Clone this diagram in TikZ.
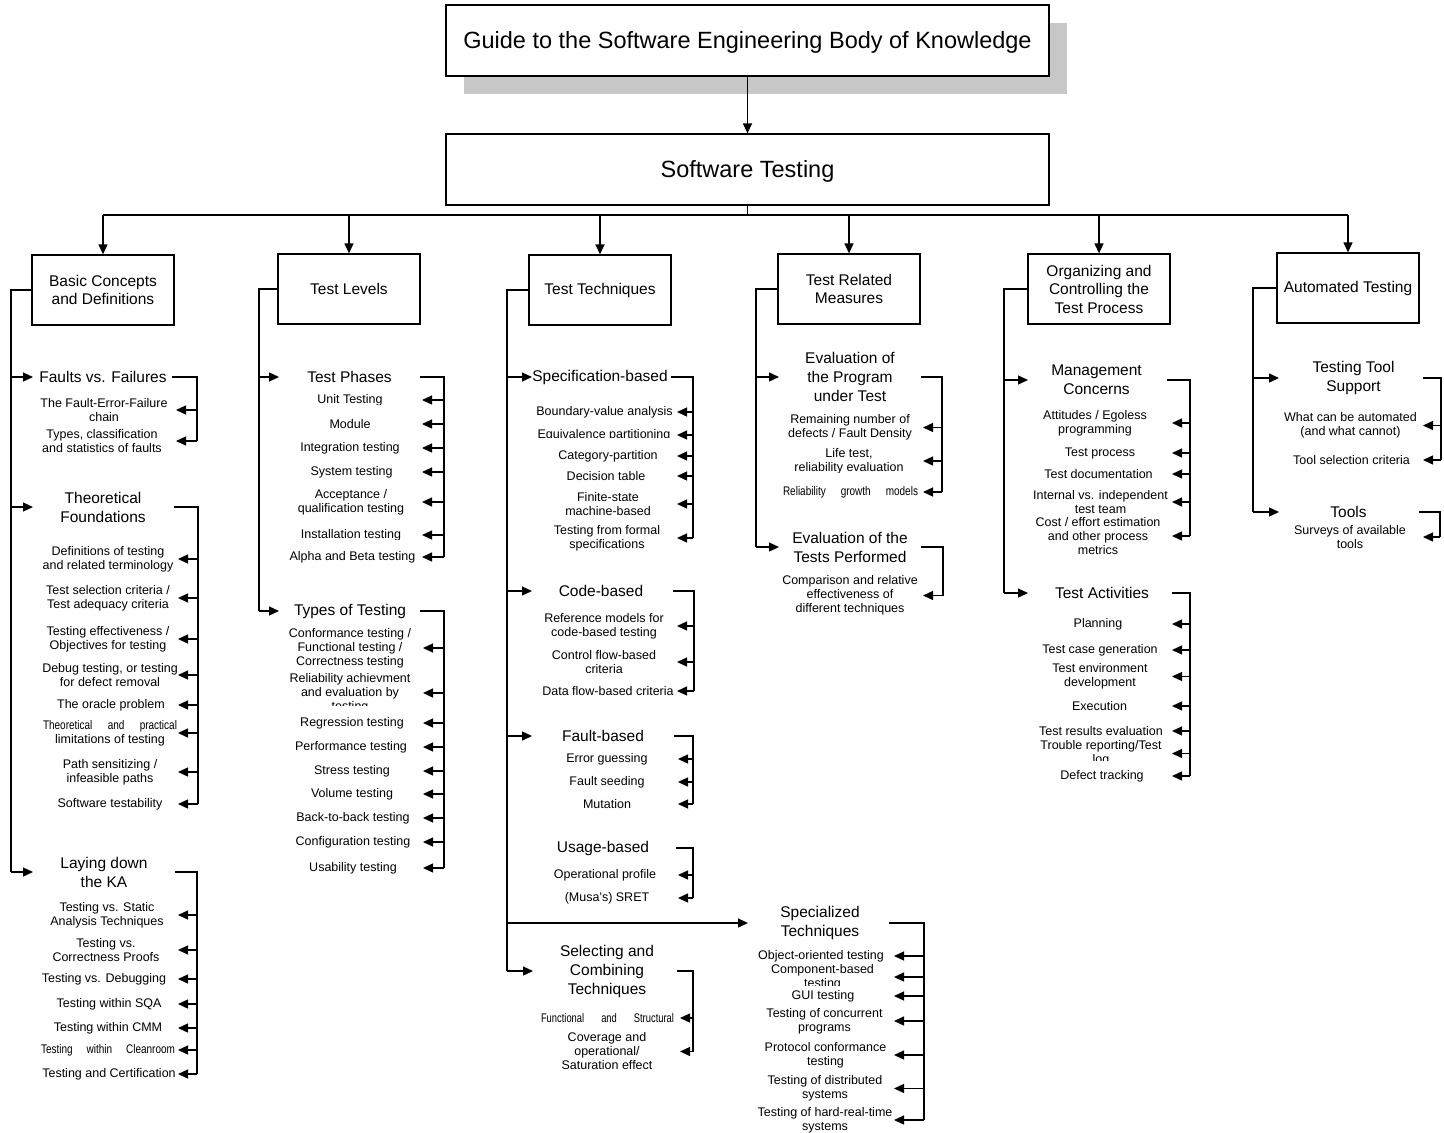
\documentclass[tikz,border=0pt]{standalone}
\usepackage{fontspec}
\usepackage{graphicx}
\setmainfont{Liberation Sans}
\usetikzlibrary{arrows.meta}

\newcommand\fsz[2]{\fontsize{#1}{#2}\selectfont}
% a condensed word, and a line of such words spread over a fixed width
\newcommand\cw[2][0.8]{\scalebox{#1}[1]{#2}}
\newcommand\spreadtext[2]{\makebox[#1pt][s]{#2}}

% bracket from a topic title down the right side, with one arrow per subtopic
% #1 topic node, #2 x where the bracket starts, #3 rail x, #4 arrow tip x, #5 number of subtopics
\newcommand\kabranch[5]{%
  \draw[ln] (#2,0 |- #1) -- (#3,0 |- #1) -- (#3,0 |- #1#5);
  \foreach \n in {1,...,#5}{\draw[arr] (#3,0 |- #1\n) -- (#4,0 |- #1\n);}
}

\tikzset{
  ln/.style={line width=1.3pt},
  arr/.style={line width=1.3pt,-{Triangle[length=10pt,width=9pt]}},
  hbox/.style={draw,line width=1.3pt,fill=white,minimum width=603pt,minimum height=71pt,
    text height=20pt,text depth=5pt,font=\fsz{23.5}{28}},
  kabox/.style={draw,line width=1.3pt,minimum width=142pt,minimum height=70pt,align=center,font=\fsz{15.5}{18.5}},
  cat/.style={align=center,inner sep=0pt,font=\fsz{15.5}{19}},
  item/.style={align=center,inner sep=0pt,font=\fsz{12.5}{14}},
}

\begin{document}
\begin{tikzpicture}[x=1pt,y=-1pt]
\useasboundingbox (0,0) rectangle (1444,1133);

% ---------- header ----------
\fill[black!22] (464,23) rectangle (1067,94);
\node[hbox] (guide) at (747.5,40.5) {Guide to the Software Engineering Body of Knowledge};
\node[hbox] (st) at (747.5,169.5) {Software Testing};
\draw[arr] (guide.south) -- (st.north);

% ---------- knowledge areas ----------
\node[kabox] (b1) at (103,290) {Basic Concepts\\and Definitions};
\node[kabox] (b2) at (349,289) {Test Levels};
\node[kabox] (b3) at (600,290) {Test Techniques};
\node[kabox] (b4) at (849,289) {Test Related\\Measures};
\node[kabox] (b5) at (1099,289) {Organizing and\\Controlling the\\Test Process};
\node[kabox] (b6) at (1348,288) {Automated Testing};

\coordinate (bus) at (747.5,215);
\draw[ln] (st.south) -- (bus);
\draw[ln] (b1 |- bus) -- (b6 |- bus);
\foreach \b in {1,...,6}{\draw[arr] (b\b |- bus) -- (b\b.north);}

% ---------- Basic Concepts and Definitions ----------
\node[cat] (ff) at (103,377) {Faults vs. Failures};
\node[item] (ff1) at (104,410) {The Fault-Error-Failure\\chain};
\node[item] (ff2) at (102,441) {Types, classification\\and statistics of faults};
\kabranch{ff}{172}{197}{176}{2}

\node[cat] (tf) at (103,507) {Theoretical\\Foundations};
\node[item] (tf1) at (108,559) {Definitions of testing\\and related terminology};
\node[item] (tf2) at (108,598) {Test selection criteria /\\Test adequacy criteria};
\node[item] (tf3) at (108,639) {Testing effectiveness /\\Objectives for testing};
\node[item] (tf4) at (110,675) {Debug testing, or testing\\for defect removal};
\node[item] (tf5) at (111,705) {The oracle problem};
\node[item] (tf6) at (110,733) {\spreadtext{134}{\cw{Theoretical}\hfill\cw{and}\hfill\cw{practical}}\\limitations of testing};
\node[item] (tf7) at (110,772) {Path sensitizing /\\infeasible paths};
\node[item] (tf8) at (110,804) {Software testability};
\kabranch{tf}{174}{198}{178}{8}

\node[cat] (lk) at (104,872) {Laying down\\the KA};
\node[item] (lk1) at (107,915) {Testing vs. Static\\Analysis Techniques};
\node[item] (lk2) at (106,950) {Testing vs.\\Correctness Proofs};
\node[item] (lk3) at (104,979) {Testing vs. Debugging};
\node[item] (lk4) at (109,1004) {Testing within SQA};
\node[item] (lk5) at (108,1028) {Testing within CMM};
\node[item] (lk6) at (108,1050) {\spreadtext{134}{\cw{Testing}\hfill\cw{within}\hfill\cw{Cleanroom}}};
\node[item] (lk7) at (109,1074) {Testing and Certification};
\kabranch{lk}{175}{197}{178}{7}

\coordinate (k1) at (11,0);
\draw[ln] (b1.west) -| (k1 |- lk);
\foreach \c in {ff,tf,lk}{\draw[arr] (k1 |- \c) -- (33,0 |- \c);}

% ---------- Test Levels ----------
\node[cat] (tp) at (349.5,377) {Test Phases};
\begin{scope}
  \clip (270,385) rectangle (430,404);
  \node[item] (tp1) at (350,400) {Unit Testing};
\end{scope}
\node[item] (tp2) at (350,424) {Module};
\node[item] (tp3) at (350,448) {Integration testing};
\node[item] (tp4) at (351.5,472) {System testing};
\node[item] (tp5) at (351,502) {Acceptance /\\qualification testing};
\begin{scope}
  \clip (270,520) rectangle (430,539);
  \node[item] (tp6) at (351,535) {Installation testing};
\end{scope}
\node[item] (tp7) at (352.5,557) {Alpha and Beta testing};
\kabranch{tp}{420}{444}{422}{7}

\node[cat] (tt) at (350,611) {Types of Testing};
\node[item] (tt1) at (350,648) {Conformance testing /\\Functional testing /\\Correctness testing};
\begin{scope}
  \clip (270,670) rectangle (430,705);
  \node[item] (tt2) at (350,693) {Reliability achievment\\and evaluation by\\testing};
\end{scope}
\node[item] (tt3) at (352,723) {Regression testing};
\node[item] (tt4) at (351,747) {Performance testing};
\node[item] (tt5) at (352,771) {Stress testing};
\node[item] (tt6) at (352,794) {Volume testing};
\node[item] (tt7) at (353,818) {Back-to-back testing};
\node[item] (tt8) at (353,842) {Configuration testing};
\node[item] (tt9) at (353,868) {Usability testing};
\kabranch{tt}{420}{444}{423}{9}

\coordinate (k2) at (259,0);
\draw[ln] (b2.west) -| (k2 |- tt);
\foreach \c in {tp,tt}{\draw[arr] (k2 |- \c) -- (279,0 |- \c);}

% ---------- Test Techniques ----------
\node[cat] (sb) at (600,377) {Specification-based};
\node[item] (sb1) at (604.5,412) {Boundary-value analysis};
\begin{scope}
  \clip (520,420) rectangle (690,437.5);
  \node[item] (sb2) at (604,435) {Equivalence partitioning};
\end{scope}
\node[item] (sb3) at (608,456) {Category-partition};
\node[item] (sb4) at (606,476) {Decision table};
\node[item] (sb5) at (608,504) {Finite-state\\machine-based};
\node[item] (sb6) at (607,538) {Testing from formal\\specifications};
\kabranch{sb}{671}{693}{677}{6}

\node[cat] (cb) at (601,591) {Code-based};
\node[item] (cb1) at (604,626) {Reference models for\\code-based testing};
\node[item] (cb2) at (604,662) {Control flow-based\\criteria};
\node[item] (cb3) at (608,691) {Data flow-based criteria};
\kabranch{cb}{673}{694}{677}{3}

\node[cat] (fb) at (603,736) {Fault-based};
\node[item] (fb1) at (607,759) {Error guessing};
\node[item] (fb2) at (607,782) {Fault seeding};
\node[item] (fb3) at (607,804) {Mutation};
\kabranch{fb}{674}{693}{678}{3}

\node[cat] (ub) at (603,848) {Usage-based};
\node[item] (ub1) at (605,875) {Operational profile};
\node[item] (ub2) at (607,898) {(Musa's) SRET};
\kabranch{ub}{676}{693}{678}{2}

\node[cat] (sc) at (607,971) {Selecting and\\Combining\\Techniques};
\node[item] (sc1) at (607.5,1018) {\spreadtext{133}{\cw[0.75]{Functional}\hfill\cw[0.75]{and}\hfill\cw[0.75]{Structural}}};
\node[item] (sc2) at (607,1051.5) {Coverage and\\operational/\\Saturation effect};
\kabranch{sc}{677}{693}{680}{2}

\node[cat] (sp) at (820,923) {Specialized\\Techniques};
\node[item] (sp1) at (821,956) {Object-oriented testing};
\begin{scope}
  \clip (740,960) rectangle (900,985);
  \node[item] (sp2) at (822.5,977) {Component-based\\testing};
\end{scope}
\node[item] (sp3) at (823,996) {GUI testing};
\node[item] (sp4) at (824.5,1021) {Testing of concurrent\\programs};
\node[item] (sp5) at (825.5,1055) {Protocol conformance\\testing};
\node[item] (sp6) at (825,1088.5) {Testing of distributed\\systems};
\node[item] (sp7) at (825,1120) {Testing of hard-real-time\\systems};
\kabranch{sp}{889}{924}{894}{7}

\coordinate (k3) at (507,0);
\draw[ln] (b3.west) -| (k3 |- sc);
\foreach \c in {sb,cb,fb}{\draw[arr] (k3 |- \c) -- (532,0 |- \c);}
\draw[arr] (k3 |- sp) -- (748,0 |- sp);
\draw[arr] (k3 |- sc) -- (533,0 |- sc);

% ---------- Test Related Measures ----------
\node[cat] (ep) at (850,377) {Evaluation of\\the Program\\under Test};
\node[item] (ep1) at (850,427.5) {Remaining number of\\defects / Fault Density};
\begin{scope}
  \clip (770,440) rectangle (930,472);
  \node[item] (ep2) at (849,461) {Life test,\\reliability evaluation};
\end{scope}
\node[item] (ep3) at (850.5,492) {\spreadtext{135}{\cw{Reliability}\hfill\cw{growth}\hfill\cw{models}}};
\kabranch{ep}{921}{942}{923}{3}

\node[cat] (et) at (850,547) {Evaluation of the\\Tests Performed};
\node[item] (et1) at (850,595.5) {Comparison and relative\\effectiveness of\\different techniques};
\kabranch{et}{921}{943}{923}{1}

\coordinate (k4) at (756,0);
\draw[ln] (b4.west) -| (k4 |- et);
\foreach \c in {ep,et}{\draw[arr] (k4 |- \c) -- (779,0 |- \c);}

% ---------- Organizing and Controlling the Test Process ----------
\node[cat] (mc) at (1096.5,380) {Management\\Concerns};
\node[item] (mc1) at (1095,423) {Attitudes / Egoless\\programming};
\node[item] (mc2) at (1100,453) {Test process};
\node[item] (mc3) at (1098.5,474) {Test documentation};
\node[item] (mc4) at (1100.5,502) {Internal vs. independent\\test team};
\node[item] (mc5) at (1098,536) {Cost / effort estimation\\and other process\\metrics};
\kabranch{mc}{1167}{1190}{1172}{5}

\node[cat] (ta) at (1102,593) {Test Activities};
\node[item] (ta1) at (1098,624) {Planning};
\node[item] (ta2) at (1100,650) {Test case generation};
\node[item] (ta3) at (1100,676.5) {Test environment\\development};
\node[item] (ta4) at (1099.5,706) {Execution};
\node[item] (ta5) at (1101,731) {Test results evaluation};
\begin{scope}
  \clip (1020,738) rectangle (1180,760);
  \node[item] (ta6) at (1101,753.5) {Trouble reporting/Test\\log};
\end{scope}
\node[item] (ta7) at (1102,776) {Defect tracking};
\kabranch{ta}{1172}{1190}{1172}{7}

\coordinate (k5) at (1004,0);
\draw[ln] (b5.west) -| (k5 |- ta);
\foreach \c in {mc,ta}{\draw[arr] (k5 |- \c) -- (1028,0 |- \c);}

% ---------- Automated Testing ----------
\node[cat] (ts) at (1353.5,378) {Testing Tool\\Support};
\node[item] (ts1) at (1350.5,425.5) {What can be automated\\(and what cannot)};
\node[item] (ts2) at (1351.5,460) {Tool selection criteria};
\kabranch{ts}{1423}{1441}{1423}{2}

\node[cat] (tl) at (1348.5,512) {Tools};
\node[item] (tl1) at (1350,537) {Surveys of available\\tools};
\kabranch{tl}{1419}{1440}{1423}{1}

\coordinate (k6) at (1253,0);
\draw[ln] (b6.west) -| (k6 |- tl);
\foreach \c in {ts,tl}{\draw[arr] (k6 |- \c) -- (1279,0 |- \c);}

\end{tikzpicture}
\end{document}
